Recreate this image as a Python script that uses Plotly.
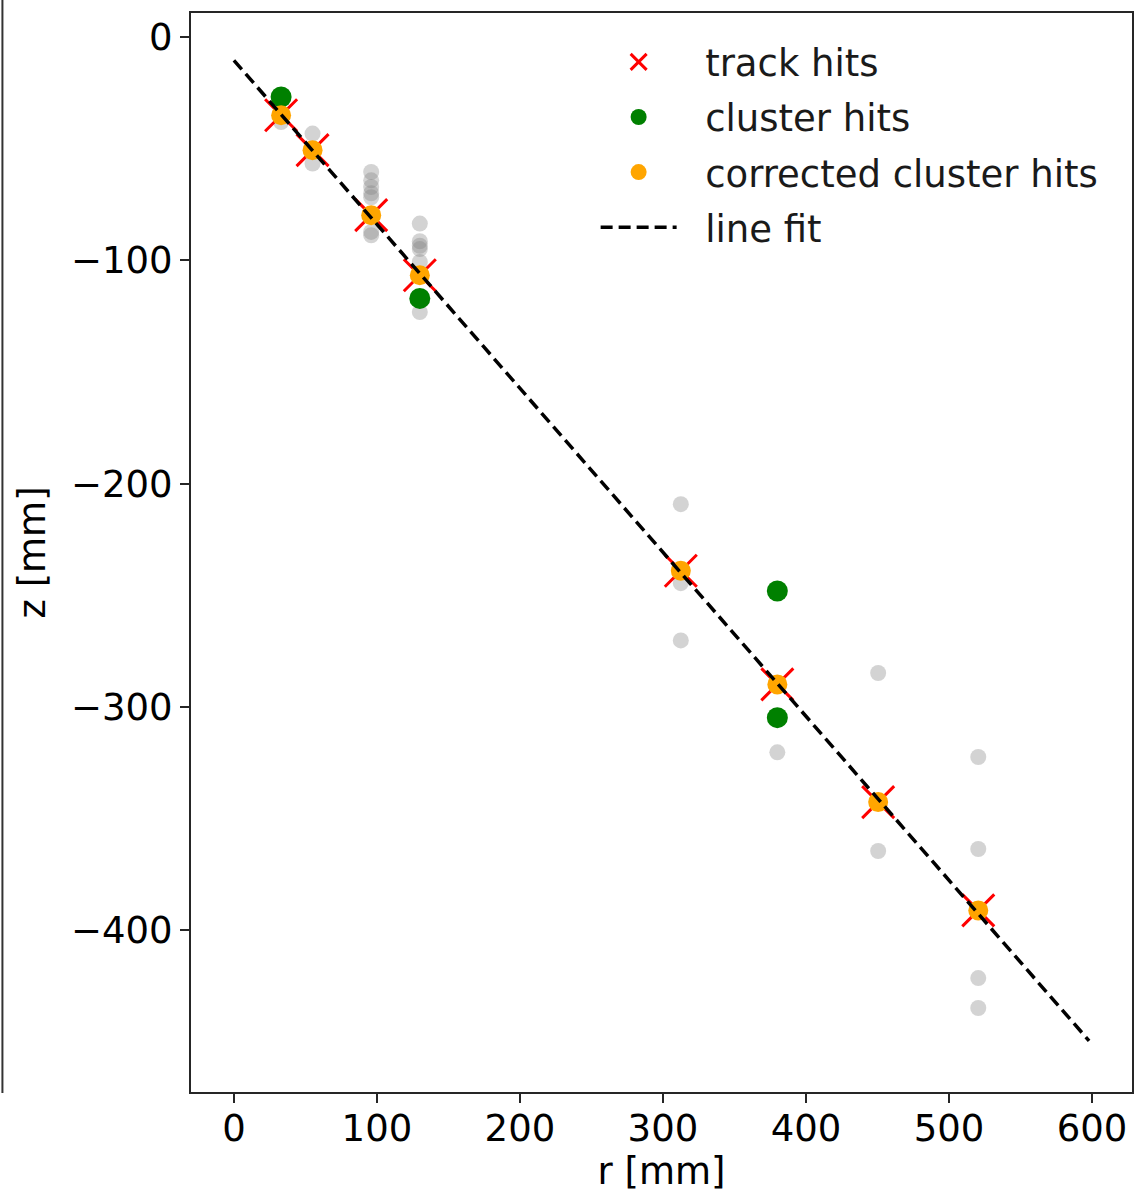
import plotly.graph_objects as go

# Track hits on each detector layer (r, z in mm)
track_r = [33, 55, 96, 130, 312.5, 380, 450.5, 520.5]
track_z = [-35.1, -50.7, -79.8, -106.7, -239.0, -289.9, -342.6, -391.1]

# Cluster hits after the position correction
corrected_r = [33, 55, 96, 130, 312.5, 380, 450.5, 520.5]
corrected_z = [-35.1, -50.7, -79.8, -106.7, -239.0, -289.9, -342.6, -391.1]

# Raw cluster hits that were associated with the track
cluster_r = [33, 130, 380, 380]
cluster_z = [-26.9, -117.1, -248.1, -304.8]

# All other hits on the layers
other_r = [33, 55, 55,
           96, 96, 96, 96, 96, 96, 96,
           130, 130, 130, 130, 130, 130,
           312.5, 312.5, 312.5,
           380,
           450.5, 450.5,
           520.5, 520.5, 520.5, 520.5]
other_z = [-38.1, -43.3, -56.7,
           -60.5, -64.2, -67.2, -70.0, -71.8, -87.3, -88.8,
           -83.6, -91.5, -93.5, -95.0, -100.8, -123.2,
           -209.2, -244.6, -270.2,
           -320.3,
           -284.8, -364.5,
           -322.4, -363.6, -421.4, -434.8]

# Straight-line fit through the corrected hits
fit_r = [0, 598]
fit_z = [-10.5, -449.5]

x_ticks = [0, 100, 200, 300, 400, 500, 600]
y_ticks = [0, -100, -200, -300, -400]

FONT = "DejaVu Sans"
FS = 37
AXIS_COLOR = "#262626"
PAD = "\u00a0\u00a0"  # gap between legend handle and label

fig = go.Figure()

fig.add_trace(go.Scatter(
    x=other_r, y=other_z, mode="markers", showlegend=False,
    marker=dict(size=16, color="rgba(128,128,128,0.35)", line=dict(width=0)),
))
fig.add_trace(go.Scatter(
    x=track_r, y=track_z, mode="markers", name=PAD + "track hits", legendgroup="a",
    marker=dict(symbol="x-thin", size=32, color="red",
                line=dict(width=3, color="red")),
))
fig.add_trace(go.Scatter(
    x=cluster_r, y=cluster_z, mode="markers", name=PAD + "cluster hits",
    legendgroup="b",
    marker=dict(size=21, color="green", line=dict(width=0)),
))
fig.add_trace(go.Scatter(
    x=corrected_r, y=corrected_z, mode="markers",
    name=PAD + "corrected cluster hits", legendgroup="c",
    marker=dict(size=20, color="orange", line=dict(width=0)),
))
fig.add_trace(go.Scatter(
    x=fit_r, y=fit_z, mode="lines", name=PAD + "line fit", legendgroup="d",
    line=dict(color="black", width=3.5, dash="12px,6px"),
))

axis_common = dict(
    showline=True, linewidth=2, linecolor=AXIS_COLOR, mirror=True,
    ticks="outside", ticklen=9, tickwidth=2, tickcolor=AXIS_COLOR,
    showgrid=False, zeroline=False,
    tickfont=dict(family=FONT, size=FS, color="black"),
    title_font=dict(family=FONT, size=FS, color="black"),
)

fig.update_xaxes(range=[-30, 628], tickvals=x_ticks, ticklabelstandoff=-6,
                 title_text="r [mm]", title_standoff=4, **axis_common)
fig.update_yaxes(range=[-472.4, 10.7], tickvals=y_ticks,
                 title_text="z [mm]", title_standoff=14, **axis_common)

# Frame edge of the neighbouring panel on the left
fig.add_shape(type="line", xref="paper", yref="paper",
              x0=-0.2004, x1=-0.2004, y0=-0.001, y1=1.02,
              line=dict(color="#333333", width=2))

fig.update_layout(
    width=1135, height=1194,
    margin=dict(l=191, r=1, t=13, b=102),
    plot_bgcolor="white", paper_bgcolor="white",
    font=dict(family=FONT, size=FS, color="black"),
    legend=dict(
        x=0.43, y=0.983, xanchor="left", yanchor="top",
        bgcolor="rgba(255,255,255,0.8)", borderwidth=0,
        font=dict(family=FONT, size=FS, color="#1a1a1a"),
        traceorder="grouped", tracegroupgap=4, itemwidth=76,
    ),
)

fig.write_html("out.html")
